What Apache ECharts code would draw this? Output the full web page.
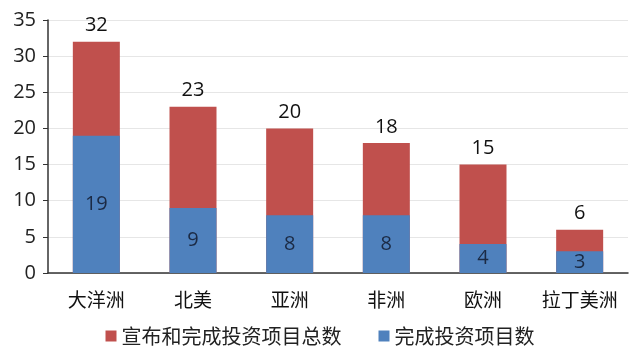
<!DOCTYPE html>
<html><head><meta charset="utf-8">
<script src="https://cdn.jsdelivr.net/npm/echarts@6/dist/echarts.min.js"></script>
<style>html,body{margin:0;padding:0;background:#fff}#c{width:640px;height:364px}</style>
</head><body><div id="c"></div>
<script>
const categories = ['大洋洲','北美','亚洲','非洲','欧洲','拉丁美洲'];
const totalValues = [32, 23, 20, 18, 15, 6];
const completedValues = [19, 9, 8, 8, 4, 3];
const seriesNames = ['宣布和完成投资项目总数','完成投资项目数'];
const chart = echarts.init(document.getElementById('c'));
const font = '"Noto Sans CJK SC", "Noto Sans", sans-serif';
chart.setOption({
  animation:false,
  backgroundColor:'#fff',
  textStyle:{fontFamily:font},
  grid:{left:48,right:12,top:20,bottom:91},
  legend:{
    data:seriesNames, bottom:13, left:'center', itemWidth:11, itemHeight:11, itemGap:37,
    icon:'rect', textStyle:{fontSize:20,color:'#222',fontFamily:font,padding:[0,0,0,0]}
  },
  xAxis:{
    type:'category', data:categories,
    axisLine:{lineStyle:{color:'#333',width:1.5}},
    axisTick:{show:false},
    axisLabel:{interval:0,fontSize:19,color:'#111',margin:17,fontFamily:font}
  },
  yAxis:{
    type:'value', min:0, max:35, interval:5,
    axisLine:{show:true,lineStyle:{color:'#333',width:1.5}},
    axisTick:{show:true,length:5,lineStyle:{color:'#333'}},
    splitLine:{lineStyle:{color:'#e6e6e6'}},
    axisLabel:{fontSize:20,color:'#222',margin:12,fontFamily:'"Open Sans", sans-serif'}
  },
  series:[
    {name:seriesNames[0], type:'bar', data:totalValues, barWidth:47, barGap:'-100%',
     itemStyle:{color:'#c0504d'},
     label:{show:true,position:'top',fontSize:20,color:'#111',distance:6,fontFamily:'"Open Sans", sans-serif'}},
    {name:seriesNames[1], type:'bar', data:completedValues, barWidth:47,
     itemStyle:{color:'#4f81bd'},
     label:{show:true,position:'inside',fontSize:20,color:'#1b2a44',fontFamily:'"Open Sans", sans-serif'}}
  ]
});
</script></body></html>
